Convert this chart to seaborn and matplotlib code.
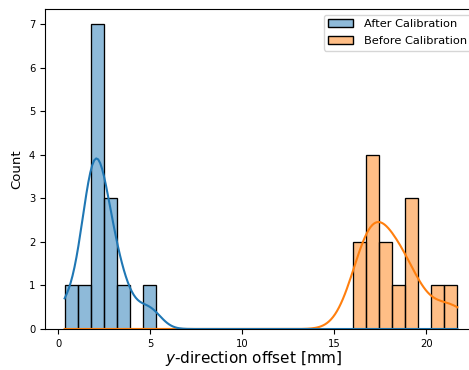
import numpy as np
import pandas as pd
import matplotlib
matplotlib.use("Agg")
import matplotlib.pyplot as plt
import seaborn as sns

# y-direction offsets [mm]
after_cal = [0.36, 1.40, 1.82, 1.85, 1.90, 1.95, 2.00, 2.10, 2.30,
             2.60, 2.85, 3.10, 3.70, 4.95]
before_cal = [16.30, 16.60, 16.80, 17.00, 17.15, 17.35, 17.55, 17.90,
              18.30, 18.90, 18.95, 19.10, 20.75, 21.70]
labels = ["After Calibration", "Before Calibration"]

df = pd.DataFrame({
    "offset": after_cal + before_cal,
    "group": [labels[0]] * len(after_cal) + [labels[1]] * len(before_cal),
})

plt.rcParams["font.size"] = 7.2

fig = plt.figure(figsize=(4.69, 3.70), dpi=100)
ax = fig.add_axes([45 / 469, 1 - 329 / 370, (477 - 45) / 469, 320 / 370])

sns.histplot(data=df, x="offset", hue="group", bins=30, kde=True, ax=ax)

ax.set_xlabel("$y$-direction offset [mm]", fontsize=11)
ax.xaxis.set_label_coords(0.4826, -0.063)
ax.set_ylabel("Count", fontsize=9.5)
sns.move_legend(ax, "upper right", title=None, fontsize=8.2,
                handlelength=2.2, handletextpad=0.9, labelspacing=0.6)

fig.savefig("out.png", dpi=100)
